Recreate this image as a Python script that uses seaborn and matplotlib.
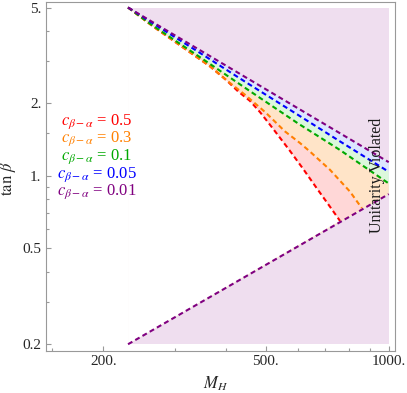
import numpy as np
import pandas as pd
import seaborn as sns
import matplotlib
matplotlib.use("Agg")
import matplotlib.pyplot as plt
from matplotlib.ticker import FixedLocator, FixedFormatter, NullFormatter

# c_{beta-alpha} values, line colours and band colours (red -> purple)
c_labels = ["0.5", "0.3", "0.1", "0.05", "0.01"]
line_colors = ["#ff0000", "#ff8000", "#00a800", "#0000ff", "#800080"]
fill_colors = ["#ffd7d7", "#ffe4c8", "#dcf8dc", "#dce6ff", "#efdeef"]

# upper unitarity boundaries (M_H, tan beta)
m_red = [230, 265, 365, 400, 428, 457, 484, 512, 545, 573, 617, 666, 718, 760]
tb_red = [5.0, 4.17, 2.85, 2.50, 2.24, 2.05, 1.84, 1.63, 1.42, 1.27, 1.07, 0.89, 0.745, 0.65]
m_orange = [230, 265, 365, 400, 445, 500, 557, 606, 642, 718, 804, 859]
tb_orange = [5.0, 4.17, 2.85, 2.50, 2.17, 1.83, 1.53, 1.37, 1.26, 1.06, 0.86, 0.735]
m_green = [230, 260, 350, 450, 600, 760, 1000]
tb_green = [5.0, 4.29, 3.06, 2.29, 1.65, 1.28, 0.93]
m_blue = [230, 260, 350, 450, 600, 760, 1000]
tb_blue = [5.0, 4.38, 3.19, 2.43, 1.79, 1.39, 1.04]
m_purple = [230, 1000]
tb_purple = [5.0, 1.14]

# lower boundary (common to all)
m_low = [230, 1000]
tb_low = [0.2, 0.84]

# scan box of the region plot
m_box = [230, 1000]
tb_box = [0.2, 5.0]

curves = [(m_red, tb_red), (m_orange, tb_orange), (m_green, tb_green),
          (m_blue, tb_blue), (m_purple, tb_purple)]

sns.set_style("white")
plt.rcParams['font.family'] = 'serif'
plt.rcParams['font.serif'] = ['Liberation Serif', 'DejaVu Serif']
plt.rcParams['mathtext.fontset'] = 'stix'

fig = plt.figure(figsize=(4.07, 3.93), dpi=100)
ax = fig.add_axes([0.1123, 0.1076, 0.8582, 0.8873])
ax.set_xscale('log')
ax.set_yscale('log')


def allowed_poly(m_up, tb_up):
    xs = list(m_up)
    ys = list(tb_up)
    if m_up[-1] >= m_low[-1]:
        xs.append(m_low[-1])
        ys.append(tb_low[-1])
    xs.append(m_low[0])
    ys.append(tb_low[0])
    return xs, ys


# outermost band: whole box
ax.fill([m_box[0], m_box[1], m_box[1], m_box[0]],
        [tb_box[0], tb_box[0], tb_box[1], tb_box[1]],
        color=fill_colors[4], lw=0, zorder=1)
# nested allowed regions, each painted with the next inner band colour
for i in range(4, -1, -1):
    xs, ys = allowed_poly(*curves[i])
    col = fill_colors[i - 1] if i > 0 else "white"
    ax.fill(xs, ys, color=col, lw=0, zorder=1)

dash = (0, (2.4, 1.6))
for (m, tb), col in zip(curves, line_colors):
    sns.lineplot(x=m, y=tb, ax=ax, color=col, lw=1.5, linestyle=dash,
                 sort=False, estimator=None, zorder=3)
sns.lineplot(x=m_low, y=tb_low, ax=ax, color=line_colors[4], lw=1.5,
             linestyle=dash, sort=False, estimator=None, zorder=3)

# legend text
leg_y = [1.68, 1.42, 1.20, 1.016, 0.86]
for lab, col, y in zip(c_labels, line_colors, leg_y):
    ax.text(193, y, r"$c_{\beta-\alpha}$ = " + lab, color=col, fontsize=12,
            ha='center', va='center')

ax.text(936, 1.0, "Unitarity Violated", rotation=90, fontsize=11.5,
        ha='center', va='center', color='#1a1a1a', zorder=4)

ax.set_xlim(144.6, 1036)
ax.set_ylim(0.188, 5.27)

ax.xaxis.set_major_locator(FixedLocator([200, 500, 1000]))
ax.xaxis.set_major_formatter(FixedFormatter(["200.", "500.", "1000."]))
ax.xaxis.set_minor_locator(FixedLocator([150, 300, 400, 600, 700, 800, 900]))
ax.xaxis.set_minor_formatter(NullFormatter())
ax.yaxis.set_major_locator(FixedLocator([0.2, 0.5, 1, 2, 5]))
ax.yaxis.set_major_formatter(FixedFormatter(["0.2", "0.5", "1.", "2.", "5."]))
ax.yaxis.set_minor_locator(FixedLocator([0.3, 0.4, 0.6, 0.7, 0.8, 0.9, 1.5, 3, 4]))
ax.yaxis.set_minor_formatter(NullFormatter())

ax.tick_params(which='both', direction='in', color='#999999', width=0.8,
               labelsize=11, pad=3, top=False, right=False, bottom=True, left=True)
ax.tick_params(which='major', length=3.6)
ax.tick_params(which='minor', length=2.4)
for s in ax.spines.values():
    s.set_color('#999999')
    s.set_linewidth(0.8)

ax.set_xlabel(r"$M_H$", fontsize=12)
ax.set_ylabel(r"$\tan\,\beta$", fontsize=12)
ax.xaxis.set_label_coords(0.485, -0.068)
ax.yaxis.set_label_coords(-0.078, 0.495)

fig.savefig("out.png", dpi=100)
